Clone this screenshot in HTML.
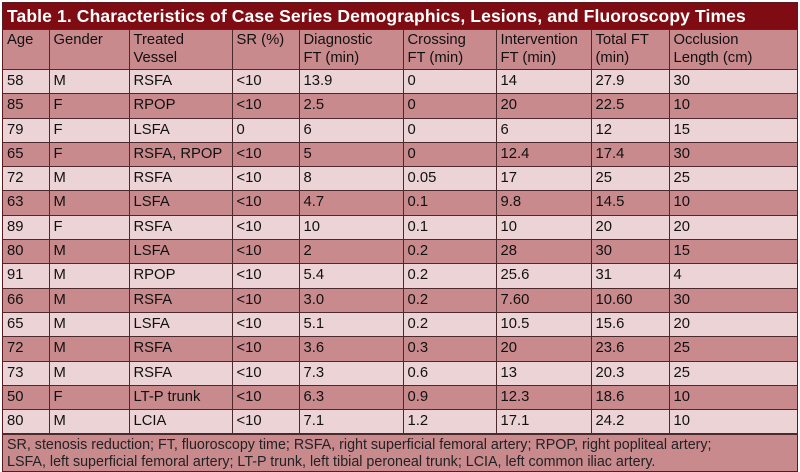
<!DOCTYPE html>
<html><head><style>
body{margin:0;background:#fff;width:800px;height:470px;overflow:hidden;font-family:"Liberation Sans",sans-serif}
.wrap{position:absolute;left:2px;top:2px;width:794px;border:1px solid #5a1a1e;background:#c98a8e}
.title{height:26px;background:#7e0c12;color:#fff;font-weight:bold;font-size:17.5px;line-height:26px;padding-left:4px;letter-spacing:0.12px}
table{border-collapse:collapse;width:100%;font-size:14.8px;color:#111;table-layout:fixed}
td{border:1px solid #4a2a2c;padding:0 4px;vertical-align:top;overflow:hidden;white-space:nowrap}
tr.h td{height:38px;background:#c98a8e;padding-top:1px;line-height:18px}
tr.l td{background:#ecd3d5;height:23.3px;line-height:23px}
tr.d td{background:#c98a8e;height:23.3px;line-height:23px}
tr td:first-child{border-left:none}tr td:last-child{border-right:none}
.foot{padding:2px 4px;font-size:14.3px;line-height:17px;color:#222;background:#c98a8e;height:32px;border-top:1px solid #4a2a2c;white-space:nowrap}
</style></head><body>
<div class="wrap">
<div class="title">Table 1. Characteristics of Case Series Demographics, Lesions, and Fluoroscopy Times</div>
<table>
<colgroup><col style="width:46px"><col style="width:80px"><col style="width:103px"><col style="width:67px"><col style="width:104px"><col style="width:93px"><col style="width:95px"><col style="width:78px"><col></colgroup>
<tr class="h"><td>Age</td><td>Gender</td><td>Treated<br>Vessel</td><td>SR (%)</td><td>Diagnostic<br>FT (min)</td><td>Crossing<br>FT (min)</td><td>Intervention<br>FT (min)</td><td>Total FT<br>(min)</td><td>Occlusion<br>Length (cm)</td></tr>
<tr class="l"><td>58</td><td>M</td><td>RSFA</td><td>&lt;10</td><td>13.9</td><td>0</td><td>14</td><td>27.9</td><td>30</td></tr>
<tr class="d"><td>85</td><td>F</td><td>RPOP</td><td>&lt;10</td><td>2.5</td><td>0</td><td>20</td><td>22.5</td><td>10</td></tr>
<tr class="l"><td>79</td><td>F</td><td>LSFA</td><td>0</td><td>6</td><td>0</td><td>6</td><td>12</td><td>15</td></tr>
<tr class="d"><td>65</td><td>F</td><td>RSFA, RPOP</td><td>&lt;10</td><td>5</td><td>0</td><td>12.4</td><td>17.4</td><td>30</td></tr>
<tr class="l"><td>72</td><td>M</td><td>RSFA</td><td>&lt;10</td><td>8</td><td>0.05</td><td>17</td><td>25</td><td>25</td></tr>
<tr class="d"><td>63</td><td>M</td><td>LSFA</td><td>&lt;10</td><td>4.7</td><td>0.1</td><td>9.8</td><td>14.5</td><td>10</td></tr>
<tr class="l"><td>89</td><td>F</td><td>RSFA</td><td>&lt;10</td><td>10</td><td>0.1</td><td>10</td><td>20</td><td>20</td></tr>
<tr class="d"><td>80</td><td>M</td><td>LSFA</td><td>&lt;10</td><td>2</td><td>0.2</td><td>28</td><td>30</td><td>15</td></tr>
<tr class="l"><td>91</td><td>M</td><td>RPOP</td><td>&lt;10</td><td>5.4</td><td>0.2</td><td>25.6</td><td>31</td><td>4</td></tr>
<tr class="d"><td>66</td><td>M</td><td>RSFA</td><td>&lt;10</td><td>3.0</td><td>0.2</td><td>7.60</td><td>10.60</td><td>30</td></tr>
<tr class="l"><td>65</td><td>M</td><td>LSFA</td><td>&lt;10</td><td>5.1</td><td>0.2</td><td>10.5</td><td>15.6</td><td>20</td></tr>
<tr class="d"><td>72</td><td>M</td><td>RSFA</td><td>&lt;10</td><td>3.6</td><td>0.3</td><td>20</td><td>23.6</td><td>25</td></tr>
<tr class="l"><td>73</td><td>M</td><td>RSFA</td><td>&lt;10</td><td>7.3</td><td>0.6</td><td>13</td><td>20.3</td><td>25</td></tr>
<tr class="d"><td>50</td><td>F</td><td>LT-P trunk</td><td>&lt;10</td><td>6.3</td><td>0.9</td><td>12.3</td><td>18.6</td><td>10</td></tr>
<tr class="l"><td>80</td><td>M</td><td>LCIA</td><td>&lt;10</td><td>7.1</td><td>1.2</td><td>17.1</td><td>24.2</td><td>10</td></tr>
</table>
<div class="foot">SR, stenosis reduction; FT, fluoroscopy time; RSFA, right superficial femoral artery; RPOP, right popliteal artery;<br>LSFA, left superficial femoral artery; LT-P trunk, left tibial peroneal trunk; LCIA, left common iliac artery.</div>
</div>
</body></html>
